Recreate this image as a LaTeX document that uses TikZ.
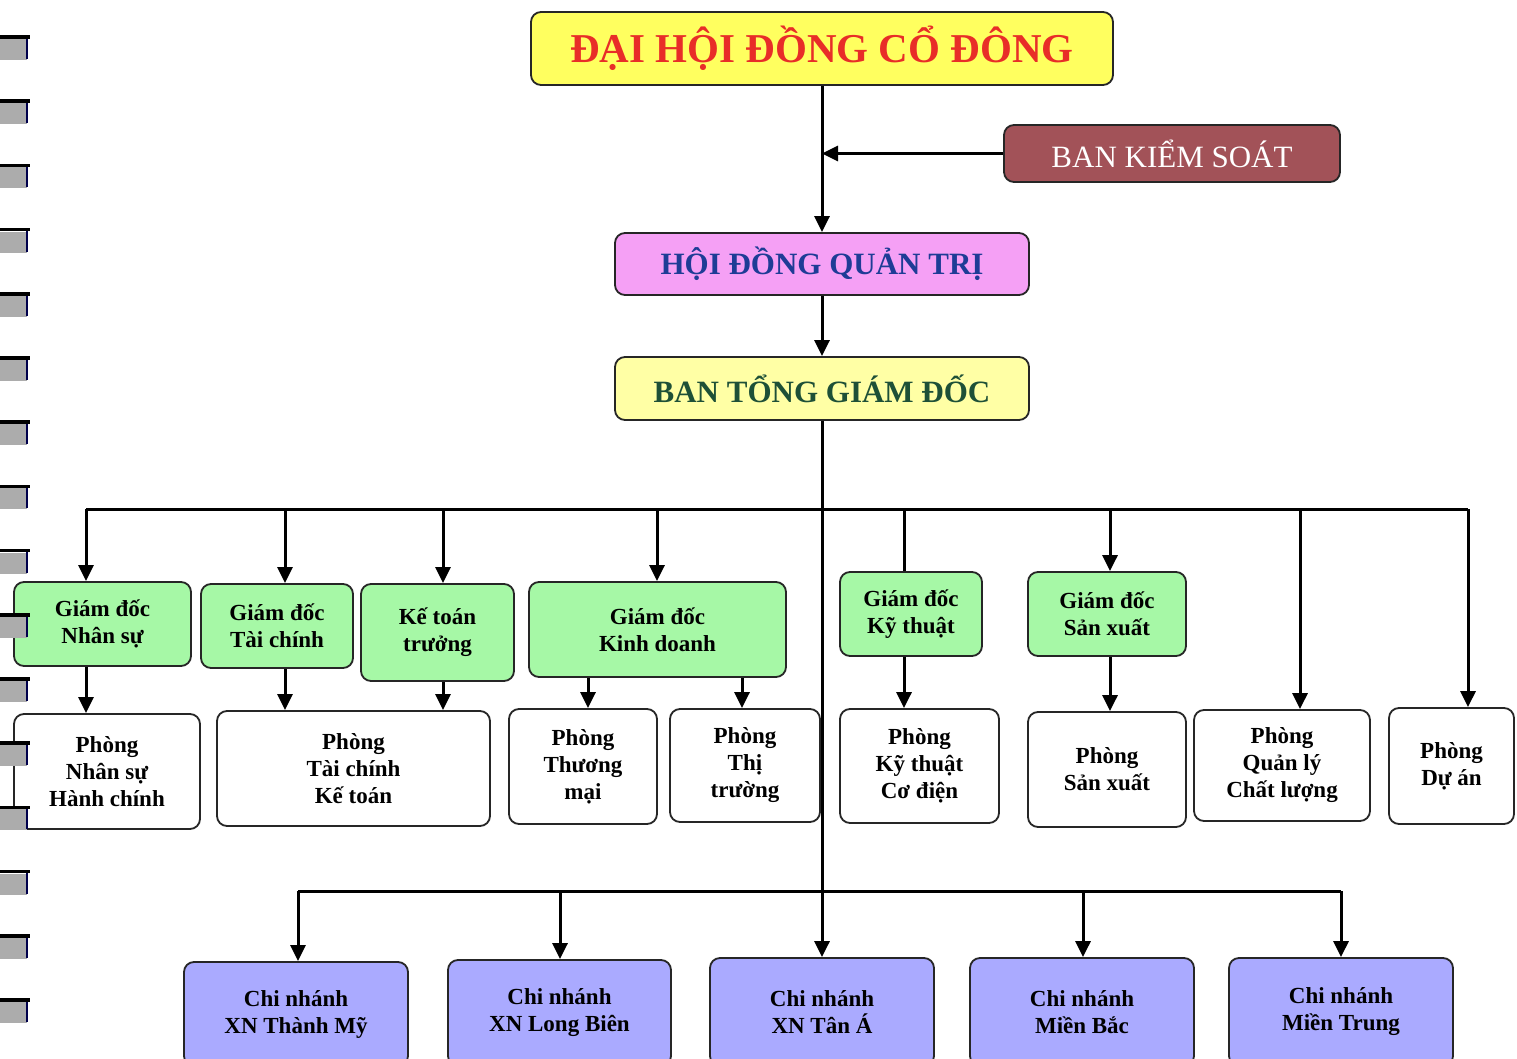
\documentclass[tikz,border=0pt]{standalone}
\usepackage{fontspec}
\setmainfont{Liberation Serif}
\usetikzlibrary{arrows.meta}
\definecolor{cyel}{RGB}{255,255,95}
\definecolor{cred}{RGB}{232,45,40}
\definecolor{cbks}{RGB}{162,82,88}
\definecolor{cpink}{RGB}{245,160,245}
\definecolor{cblue}{RGB}{30,60,150}
\definecolor{clyel}{RGB}{255,255,165}
\definecolor{cdgreen}{RGB}{30,80,55}
\definecolor{cgreen}{RGB}{166,248,166}
\definecolor{cviolet}{RGB}{170,170,255}
\newcommand\mybox[7]{\node[#1, minimum width={#5-#3}, minimum height={#6-#4}] (#2) at ({(#3+#5)/2},{(#4+#6)/2}) {#7};}
\begin{document}
\begin{tikzpicture}[x=1pt,y=-1pt,
  box/.style={draw=black!85, line width=1.8pt, rounded corners=10pt, inner sep=0pt, align=center,
    font=\bfseries\fontsize{23}{27}\selectfont},
  gbox/.style={box, fill=cgreen},
  wbox/.style={box, fill=white},
  vbox/.style={box, fill=cviolet},
  arr/.style={line width=3pt, -{Triangle[width=15pt,length=16pt]}},
  ln/.style={line width=3pt}]
\useasboundingbox (0,0) rectangle (1517,1059);
\clip (0,0) rectangle (1517,1059);
\fill[white] (0,0) rectangle (1517,1059);

% top hierarchy
\mybox{box, fill=cyel, text=cred, font=\bfseries\fontsize{41}{44}\selectfont}{dhd}{531}{12}{1113}{85}{ĐẠI HỘI ĐỒNG CỔ ĐÔNG}
\mybox{box, fill=cbks, text=white, font=\fontsize{31}{34}\selectfont}{bks}{1004}{125}{1340}{182}{BAN KIỂM SOÁT}
\mybox{box, fill=cpink, text=cblue, font=\bfseries\fontsize{31}{34}\selectfont}{hdqt}{615}{233}{1029}{295}{HỘI ĐỒNG QUẢN TRỊ}
\mybox{box, fill=clyel, text=cdgreen, font=\bfseries\fontsize{31}{34}\selectfont}{btgd}{615}{357}{1029}{420}{BAN TỔNG GIÁM ĐỐC}

% directors
\mybox{gbox}{gdns}{14}{582}{191}{666}{Giám đốc\\Nhân sự}
\mybox{gbox}{gdtc}{201}{584}{353}{668}{Giám đốc\\Tài chính}
\mybox{gbox}{ktt}{361}{584}{514}{681}{Kế toán\\trưởng}
\mybox{gbox}{gdkd}{529}{582}{786}{677}{Giám đốc\\Kinh doanh}
\mybox{gbox}{gdkt}{840}{572}{982}{656}{Giám đốc\\Kỹ thuật}
\mybox{gbox}{gdsx}{1028}{572}{1186}{656}{Giám đốc\\Sản xuất}

% departments
\mybox{wbox}{pns}{14}{714}{200}{829}{Phòng\\Nhân sự\\Hành chính}
\mybox{wbox}{ptc}{217}{711}{490}{826}{Phòng\\Tài chính\\Kế toán}
\mybox{wbox}{ptm}{509}{709}{657}{824}{Phòng\\Thương\\mại}
\mybox{wbox}{ptt}{670}{709}{820}{822}{Phòng\\Thị\\trường}
\mybox{wbox}{pkt}{840}{709}{999}{823}{Phòng\\Kỹ thuật\\Cơ điện}
\mybox{wbox}{psx}{1028}{712}{1186}{827}{Phòng\\Sản xuất}
\mybox{wbox}{pql}{1194}{710}{1370}{821}{Phòng\\Quản lý\\Chất lượng}
\mybox{wbox}{pda}{1389}{708}{1514}{824}{Phòng\\Dự án}

% branches
\mybox{vbox}{cn1}{184}{962}{408}{1066}{Chi nhánh\\XN Thành Mỹ}
\mybox{vbox}{cn2}{448}{960}{671}{1066}{Chi nhánh\\XN Long Biên}
\mybox{vbox}{cn3}{710}{958}{934}{1066}{Chi nhánh\\XN Tân Á}
\mybox{vbox}{cn4}{970}{958}{1194}{1066}{Chi nhánh\\Miền Bắc}
\mybox{vbox}{cn5}{1229}{958}{1453}{1066}{Chi nhánh\\Miền Trung}

% top connectors
\draw[arr] (dhd.south) -- (hdqt.north);
\draw[arr] (bks.west) -- (bks.west -| dhd.south);
\draw[arr] (hdqt.south) -- (btgd.north);
\draw[arr] (btgd.south) -- (cn3.north);

% upper bus
\coordinate (u1) at (86,509);
\coordinate (u2) at (285,509);
\coordinate (u3) at (443,509);
\coordinate (u4) at (657,509);
\coordinate (u5) at (904,509);
\coordinate (u6) at (1110,509);
\coordinate (u7) at (1300,509);
\coordinate (u8) at (1468,509);
\draw[ln] (u1) -- (u8);
\draw[arr] (u1) -- (u1 |- gdns.north);
\draw[arr] (u2) -- (u2 |- gdtc.north);
\draw[arr] (u3) -- (u3 |- ktt.north);
\draw[arr] (u4) -- (u4 |- gdkd.north);
\draw[ln]  (u5) -- (u5 |- gdkt.north);
\draw[arr] (u6) -- (u6 |- gdsx.north);
\draw[arr] (u7) -- (u7 |- pql.north);
\draw[arr] (u8) -- (u8 |- pda.north);

% director -> department
\draw[arr] (gdns.south -| u1) -- (u1 |- pns.north);
\draw[arr] (gdtc.south -| u2) -- (u2 |- ptc.north);
\draw[arr] (ktt.south -| u3) -- (u3 |- ptc.north);
\coordinate (k1) at (588,0);
\coordinate (k2) at (742,0);
\draw[arr] (gdkd.south -| k1) -- (k1 |- ptm.north);
\draw[arr] (gdkd.south -| k2) -- (k2 |- ptt.north);
\draw[arr] (gdkt.south -| u5) -- (u5 |- pkt.north);
\draw[arr] (gdsx.south -| u6) -- (u6 |- psx.north);

% lower bus
\coordinate (l1) at (298,891);
\coordinate (l2) at (560,891);
\coordinate (l4) at (1083,891);
\coordinate (l5) at (1341,891);
\draw[ln] (l1) -- (l5);
\draw[arr] (l1) -- (l1 |- cn1.north);
\draw[arr] (l2) -- (l2 |- cn2.north);
\draw[arr] (l4) -- (l4 |- cn4.north);
\draw[arr] (l5) -- (l5 |- cn5.north);

% binder marks
\foreach \i in {0,...,15}{
  \pgfmathsetmacro\yy{37+64.2*\i}
  \fill[gray!65] (0,\yy+2) rectangle (27,\yy+23);
  \draw[line width=2.5pt, black!70!blue] (27,\yy) -- (27,\yy+22);
  \draw[line width=3.5pt] (0,\yy) -- (30,\yy);
}
\end{tikzpicture}
\end{document}
